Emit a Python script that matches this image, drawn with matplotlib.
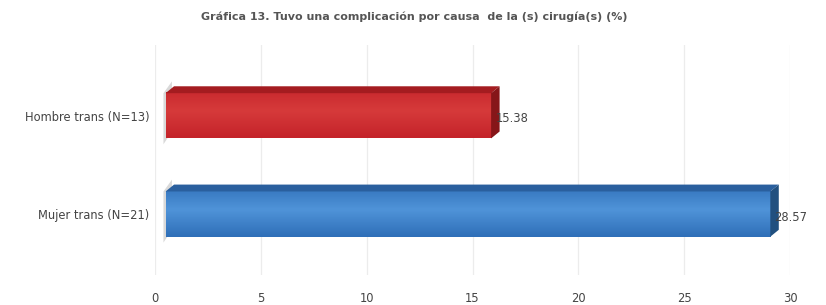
import numpy as np
import matplotlib
matplotlib.use("Agg")
import matplotlib.pyplot as plt
from matplotlib.patches import Polygon

# data
categorias = ["Mujer trans (N=21)", "Hombre trans (N=13)"]
valores = [28.57, 15.38]
etiquetas = ["28.57", "15.38"]
titulo = "Gráfica 13. Tuvo una complicación por causa  de la (s) cirugía(s) (%)"

# colores: frente, claro, arriba, lado
colores = [("#2f6fb8", "#4f93d8", "#2a5f9e", "#21507f"),
           ("#c4232a", "#d63a3a", "#a41c20", "#861619")]

fig = plt.figure(figsize=(8.26, 3.05), dpi=100)
ax = fig.add_axes([155 / 826, 30 / 305, 635 / 826, 230 / 305])

ax.set_xlim(0, 30)
ax.set_ylim(-0.62, 1.72)
ax.set_xticks(range(0, 31, 5))
ax.set_yticks(range(len(categorias)))
ax.set_yticklabels(categorias)

for s in ax.spines.values():
    s.set_visible(False)
ax.grid(axis="x", color="#ececec", lw=0.9)
ax.set_axisbelow(True)
ax.tick_params(axis="both", length=0, labelsize=8.3, colors="#444444")
ax.tick_params(axis="x", pad=12)
ax.tick_params(axis="y", pad=4)

off = 0.5      # desplazamiento del frente
alto = 0.46
dx, dy = 0.4, 0.07

for i, (v, lab) in enumerate(zip(valores, etiquetas)):
    frente, claro, arriba, lado = colores[i]
    x0, x1 = off, off + v
    yb, yt = i - alto / 2, i + alto / 2
    # cara frontal con degradado
    grad = np.linspace(0, 1, 50)
    g = 1 - np.abs(grad - 0.6) / 0.6
    cmap = matplotlib.colors.LinearSegmentedColormap.from_list("c", [frente, claro])
    ax.imshow(g[:, None], extent=(x0, x1, yb, yt), aspect="auto", cmap=cmap,
              origin="lower", zorder=3)
    # cara superior
    ax.add_patch(Polygon([(x0, yt), (x1, yt), (x1 + dx, yt + dy), (x0 + dx, yt + dy)],
                         closed=True, fc=arriba, ec="none", zorder=3))
    # cara lateral
    ax.add_patch(Polygon([(x1, yb), (x1, yt), (x1 + dx, yt + dy), (x1 + dx, yb + dy)],
                         closed=True, fc=lado, ec="none", zorder=3))
    # pared izquierda gris
    ax.add_patch(Polygon([(x0 - 0.1, yb - 0.06), (x0 - 0.1, yt), (x0 + dx - 0.1, yt + dy + 0.05),
                          (x0 + dx - 0.1, yb + dy)],
                         closed=True, fc="#d9d9d9", ec="none", zorder=2))
    ax.text(x1 + 0.2, i - 0.03, lab, va="center", ha="left", fontsize=8.3,
            color="#444444", zorder=4)

fig.text(0.502, 0.945, titulo, ha="center", va="center", fontsize=8,
         fontweight="bold", color="#555555")

fig.savefig("out.png", dpi=100, facecolor="white")
